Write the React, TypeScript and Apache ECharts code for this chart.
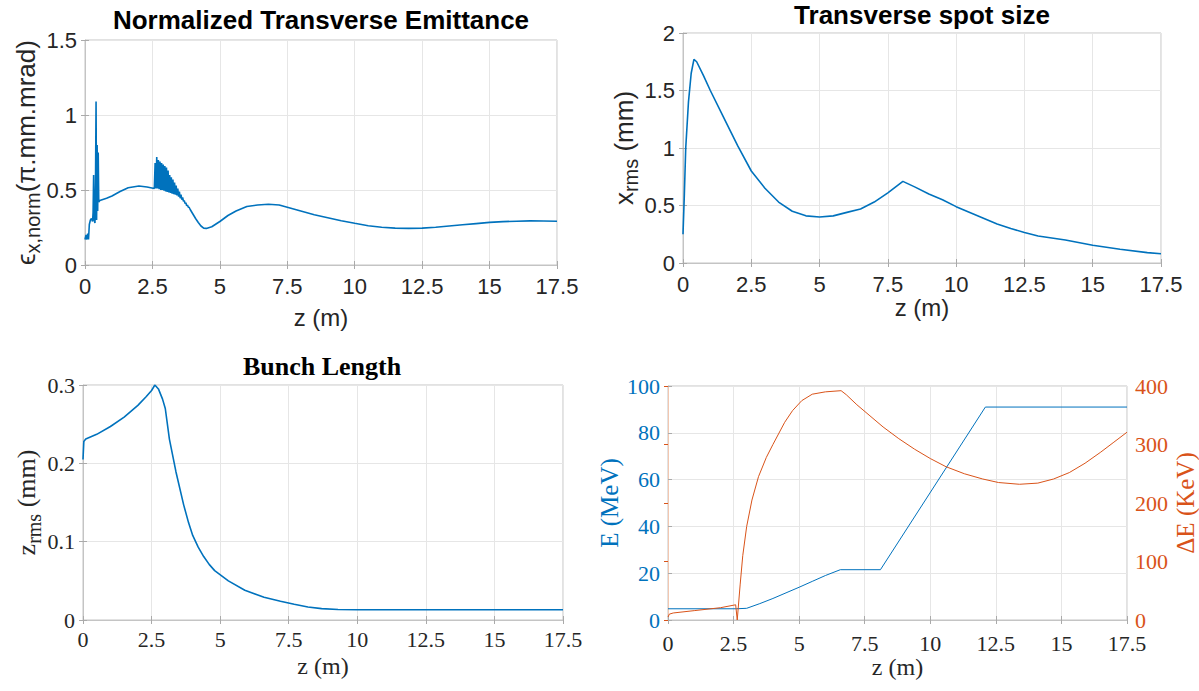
import React, { useEffect, useRef } from "react";
import * as echarts from "echarts";

// ---------- data ----------
const zTicks = [0, 2.5, 5, 7.5, 10, 12.5, 15, 17.5];

// Normalized transverse emittance (pi.mm.mrad) vs z (m)
const emittance: [number, number][] = [
  [0, 0.17], [0.04, 0.2], [0.07, 0.17], [0.1, 0.21], [0.13, 0.17], [0.16, 0.27],
  [0.2, 0.3], [0.24, 0.31], [0.28, 0.29], [0.3, 0.35], [0.32, 0.6], [0.34, 0.3],
  [0.37, 0.28], [0.39, 0.55], [0.41, 1.09], [0.43, 0.3], [0.45, 0.8], [0.47, 0.36],
  [0.49, 0.75], [0.51, 0.42], [0.55, 0.43], [0.8, 0.445], [1.0, 0.46], [1.3, 0.49],
  [1.6, 0.515], [2.0, 0.527], [2.3, 0.52], [2.57, 0.51],
  [2.6, 0.68], [2.63, 0.51], [2.66, 0.72], [2.69, 0.51], [2.72, 0.7], [2.75, 0.505],
  [2.78, 0.69], [2.81, 0.5], [2.84, 0.68], [2.87, 0.5], [2.9, 0.67], [2.93, 0.495],
  [2.96, 0.66], [2.99, 0.49], [3.02, 0.65], [3.05, 0.487], [3.08, 0.63], [3.11, 0.483],
  [3.14, 0.6], [3.17, 0.48], [3.2, 0.585], [3.23, 0.476], [3.26, 0.57], [3.29, 0.472],
  [3.32, 0.55], [3.35, 0.468], [3.38, 0.53], [3.41, 0.464], [3.44, 0.51], [3.47, 0.455],
  [3.5, 0.49], [3.53, 0.445], [3.56, 0.47], [3.59, 0.435], [3.62, 0.45], [3.65, 0.425],
  [3.68, 0.43], [3.71, 0.41], [3.74, 0.415], [3.77, 0.395], [3.8, 0.4], [3.83, 0.385],
  [3.86, 0.385], [3.9, 0.37], [4.0, 0.34], [4.1, 0.31], [4.2, 0.283], [4.3, 0.26],
  [4.4, 0.246], [4.5, 0.244], [4.7, 0.255], [5.0, 0.29], [5.3, 0.33], [5.6, 0.36],
  [6.0, 0.39], [6.4, 0.4], [6.8, 0.405], [7.2, 0.4], [7.6, 0.38], [8.0, 0.36],
  [8.5, 0.335], [9.0, 0.315], [9.5, 0.295], [10.0, 0.278], [10.5, 0.262], [11.0, 0.252],
  [11.5, 0.246], [12.0, 0.244], [12.5, 0.246], [13.0, 0.252], [13.5, 0.26], [14.0, 0.268],
  [14.5, 0.276], [15.0, 0.284], [15.5, 0.289], [16.0, 0.292], [16.5, 0.294], [17.0, 0.293],
  [17.5, 0.292],
];

// Transverse spot size x_rms (mm)
const spotSize: [number, number][] = [
  [0, 0.25], [0.05, 0.6], [0.1, 1.0], [0.2, 1.4], [0.3, 1.65], [0.4, 1.77], [0.5, 1.75],
  [0.75, 1.63], [1.0, 1.5], [1.5, 1.26], [2.0, 1.02], [2.5, 0.8], [3.0, 0.65], [3.5, 0.53],
  [4.0, 0.45], [4.5, 0.41], [5.0, 0.4], [5.5, 0.41], [6.0, 0.44], [6.5, 0.47], [7.0, 0.53],
  [7.5, 0.61], [8.05, 0.71], [8.5, 0.66], [9.0, 0.6], [9.5, 0.55], [10.0, 0.49], [10.5, 0.44],
  [11.0, 0.39], [11.5, 0.34], [12.0, 0.3], [12.5, 0.265], [13.0, 0.235], [14.0, 0.2],
  [15.0, 0.155], [16.0, 0.12], [17.0, 0.09], [17.5, 0.08],
];

// Bunch length z_rms (mm)
const bunchLength: [number, number][] = [
  [0, 0.205], [0.03, 0.228], [0.1, 0.231], [0.5, 0.237], [1.0, 0.247], [1.5, 0.259],
  [2.0, 0.274], [2.3, 0.285], [2.5, 0.293], [2.62, 0.3], [2.75, 0.295], [2.9, 0.282],
  [3.0, 0.27], [3.15, 0.231], [3.39, 0.189], [3.67, 0.147], [3.85, 0.124], [4.0, 0.108],
  [4.2, 0.093], [4.4, 0.081], [4.6, 0.071], [4.8, 0.063], [5.3, 0.05], [5.9, 0.038],
  [6.6, 0.029], [7.2, 0.024], [7.7, 0.02], [8.2, 0.0165], [8.7, 0.0145], [9.3, 0.0135],
  [10.0, 0.013], [12.0, 0.013], [17.5, 0.013],
];

// Beam energy E (MeV)
const energy: [number, number][] = [
  [0, 4.8], [2.6, 4.8], [3.0, 5.0], [3.5, 7.0], [4.0, 9.2], [4.5, 11.6], [5.0, 14.0],
  [5.5, 16.5], [6.0, 19.0], [6.57, 21.5], [8.1, 21.5], [12.1, 91], [17.5, 91],
];

// Energy spread dE (keV)
const energySpread: [number, number][] = [
  [0, 5], [0.05, 10], [0.2, 12], [1.0, 16], [2.0, 21], [2.58, 26], [2.64, 0],
  [2.75, 60], [2.85, 110], [3.0, 160], [3.2, 205], [3.45, 245], [3.75, 278], [4.0, 300],
  [4.45, 338], [4.75, 358], [5.1, 375], [5.5, 386], [6.0, 390], [6.6, 392], [6.8, 385],
  [7.2, 368], [7.7, 349], [8.2, 330], [8.8, 310], [9.4, 292], [10.0, 276], [10.6, 262],
  [11.3, 250], [12.0, 241], [12.6, 235], [13.4, 232], [14.1, 234], [14.7, 241],
  [15.3, 252], [15.9, 268], [16.5, 287], [17.0, 304], [17.5, 321],
];

// ---------- styling ----------
const SANS = '"Liberation Sans", Arial, Helvetica, sans-serif';
const SERIF = '"Liberation Serif", "Times New Roman", serif';
const BLUE = "#0072BD";
const ORANGE = "#D95319";
const TEXT = "#262626";
const BOX = "#c4c4c4";
const GRIDLINE = "#e6e6e6";

const grids = [
  { left: 85, top: 40, width: 472, height: 225 },
  { left: 683, top: 33, width: 478, height: 230 },
  { left: 83, top: 385, width: 480, height: 235 },
  { left: 668, top: 386, width: 462, height: 234 },
];

function xMain(gi: number, font: string, nameGap: number, labelMargin: number) {
  return {
    type: "value",
    gridIndex: gi,
    min: zTicks[0],
    max: zTicks[zTicks.length - 1],
    interval: 2.5,
    name: "z (m)",
    nameLocation: "middle",
    nameGap,
    nameTextStyle: { fontFamily: font, fontSize: 24, color: TEXT },
    axisLine: { show: true, lineStyle: { color: BOX, width: 1 } },
    axisTick: { show: true, inside: true, length: 4, lineStyle: { color: "#aaa" } },
    axisLabel: { fontFamily: font, fontSize: 22, color: TEXT, margin: labelMargin },
    splitLine: { show: true, lineStyle: { color: GRIDLINE, width: 1 } },
  };
}

function xTop(gi: number) {
  return {
    type: "value",
    gridIndex: gi,
    position: "top",
    min: zTicks[0],
    max: zTicks[zTicks.length - 1],
    interval: 2.5,
    axisLine: { show: false },
    axisTick: { show: true, inside: true, length: 4, lineStyle: { color: "#aaa" } },
    axisLabel: { show: false },
    splitLine: { show: false },
  };
}

function yRightTicks(gi: number, max: number, interval: number) {
  return {
    type: "value",
    gridIndex: gi,
    position: "right",
    min: 0,
    max,
    interval,
    axisLine: { show: false },
    axisTick: { show: true, inside: true, length: 4, lineStyle: { color: "#aaa" } },
    axisLabel: { show: false },
    splitLine: { show: false },
  };
}

function yMain(
  gi: number,
  font: string,
  max: number,
  interval: number,
  name: string,
  nameGap: number,
  rich: any,
  labelMargin: number
) {
  return {
    type: "value",
    gridIndex: gi,
    min: 0,
    max,
    interval,
    name,
    nameLocation: "middle",
    nameRotate: 90,
    nameGap,
    nameTextStyle: { rich },
    axisLine: { show: true, lineStyle: { color: BOX, width: 1 } },
    axisTick: { show: true, inside: true, length: 4, lineStyle: { color: "#aaa" } },
    axisLabel: { fontFamily: font, fontSize: 22, color: TEXT, margin: labelMargin },
    splitLine: { show: true, lineStyle: { color: GRIDLINE, width: 1 } },
  };
}

function subRich(font: string, main: number, sub: number, color: string) {
  return {
    g: { fontFamily: font, fontSize: main, color, lineHeight: 34, verticalAlign: "middle" },
    s: { fontFamily: font, fontSize: sub, color, lineHeight: sub, verticalAlign: "bottom" },
  };
}

export default function App() {
  const ref = useRef<HTMLDivElement>(null);

  useEffect(() => {
    if (!ref.current) return;
    const chart = echarts.init(ref.current, undefined, { renderer: "svg" });

    const option: any = {
      animation: false,
      backgroundColor: "#ffffff",
      grid: grids.map((g) => ({
        ...g,
        show: true,
        borderColor: BOX,
        borderWidth: 1,
        backgroundColor: "transparent",
      })),
      graphic: [
        {
          type: "text",
          x: 321,
          y: 20,
          style: {
            text: "Normalized Transverse Emittance",
            font: `bold 26px ${SANS}`,
            fill: "#000",
            align: "center",
            verticalAlign: "middle",
          },
        },
        {
          type: "text",
          x: 922,
          y: 15,
          style: {
            text: "Transverse spot size",
            font: `bold 26px ${SANS}`,
            fill: "#000",
            align: "center",
            verticalAlign: "middle",
          },
        },
        {
          type: "text",
          x: 322,
          y: 366,
          style: {
            text: "Bunch Length",
            font: `bold 26px ${SERIF}`,
            fill: "#000",
            align: "center",
            verticalAlign: "middle",
          },
        },
      ],
      xAxis: [
        xMain(0, SANS, 40, 10),
        xMain(1, SANS, 28, 10),
        xMain(2, SERIF, 34, 8),
        xMain(3, SERIF, 33, 12),
        xTop(0),
        xTop(1),
        xTop(2),
        xTop(3),
      ],
      yAxis: [
        yMain(
          0,
          SANS,
          1.5,
          0.5,
          "{g|\u03f5}{s|x,norm}{g|(\u03c0.mm.mrad)}",
          22,
          subRich(SANS, 26, 20, TEXT),
          8
        ),
        yMain(1, SANS, 2, 0.5, "{g|x}{s|rms}{g| (mm)}", 20, subRich(SANS, 26, 20, TEXT), 8),
        yMain(2, SERIF, 0.3, 0.1, "{g|z}{s|rms}{g| (mm)}", 26, subRich(SERIF, 26, 20, TEXT), 8),
        {
          type: "value",
          gridIndex: 3,
          min: 0,
          max: 100,
          interval: 20,
          name: "E (MeV)",
          nameLocation: "middle",
          nameRotate: 90,
          nameGap: 46,
          nameTextStyle: { fontFamily: SERIF, fontSize: 25, color: BLUE },
          axisLine: { show: true, lineStyle: { color: BOX, width: 1 } },
          axisTick: { show: true, inside: true, length: 4, lineStyle: { color: "#aaa" } },
          axisLabel: { fontFamily: SERIF, fontSize: 22, color: BLUE, margin: 8 },
          splitLine: { show: true, lineStyle: { color: GRIDLINE, width: 1 } },
        },
        {
          type: "value",
          gridIndex: 3,
          position: "right",
          min: 0,
          max: 400,
          interval: 100,
          name: "\u0394E (KeV)",
          nameLocation: "middle",
          nameRotate: 90,
          nameGap: 46,
          nameTextStyle: { fontFamily: SERIF, fontSize: 25, color: ORANGE },
          axisLine: { show: true, lineStyle: { color: "#f2c7b0", width: 1 } },
          axisTick: { show: true, inside: true, length: 4, lineStyle: { color: ORANGE } },
          axisLabel: { fontFamily: SERIF, fontSize: 22, color: ORANGE, margin: 8 },
          splitLine: { show: false },
        },
        yRightTicks(0, 1.5, 0.5),
        yRightTicks(1, 2, 0.5),
        yRightTicks(2, 0.3, 0.1),
      ],
      series: [
        {
          type: "line",
          xAxisIndex: 0,
          yAxisIndex: 0,
          data: emittance,
          showSymbol: false,
          symbol: "none",
          lineStyle: { color: BLUE, width: 1.6 },
        },
        {
          type: "line",
          xAxisIndex: 1,
          yAxisIndex: 1,
          data: spotSize,
          showSymbol: false,
          symbol: "none",
          lineStyle: { color: BLUE, width: 1.6 },
        },
        {
          type: "line",
          xAxisIndex: 2,
          yAxisIndex: 2,
          data: bunchLength,
          showSymbol: false,
          symbol: "none",
          lineStyle: { color: BLUE, width: 1.6 },
        },
        {
          type: "line",
          xAxisIndex: 3,
          yAxisIndex: 3,
          data: energy,
          showSymbol: false,
          symbol: "none",
          lineStyle: { color: BLUE, width: 1 },
        },
        {
          type: "line",
          xAxisIndex: 3,
          yAxisIndex: 4,
          data: energySpread,
          showSymbol: false,
          symbol: "none",
          lineStyle: { color: ORANGE, width: 1 },
        },
      ],
    };

    chart.setOption(option);
    return () => chart.dispose();
  }, []);

  return (
    <div
      ref={ref}
      style={{ position: "absolute", left: 0, top: 0, width: 1199, height: 691, background: "#fff" }}
    />
  );
}
